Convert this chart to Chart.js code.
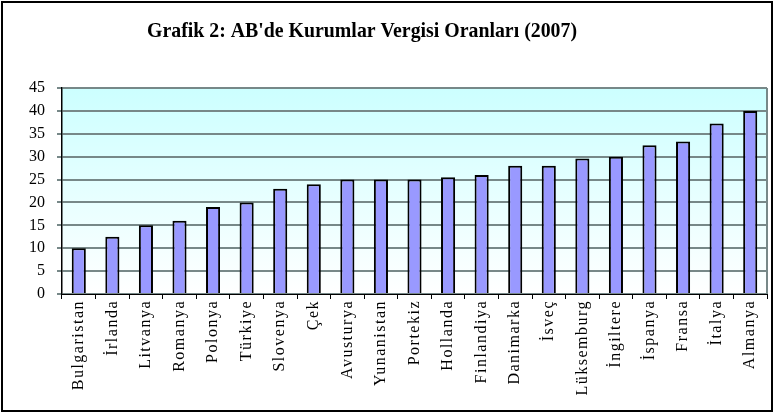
<!DOCTYPE html>
<html><head><meta charset="utf-8">
<script src="https://cdn.jsdelivr.net/npm/chart.js@4"></script>
<style>html,body{margin:0;padding:0;background:#fff}#wrap{width:775px;height:414px;position:relative}</style>
</head><body><div id="wrap"><canvas id="c" width="775" height="414"></canvas></div>
<script>
const titleText = "Grafik 2: AB'de Kurumlar Vergisi Oranları (2007)";
const categories = ['Bulgaristan','İrlanda','Litvanya','Romanya','Polonya','Türkiye','Slovenya','Çek','Avusturya','Yunanistan','Portekiz','Hollanda','Finlandiya','Danimarka','İsveç','Lüksemburg','İngiltere','İspanya','Fransa','İtalya','Almanya'];
const values = [10,12.5,15,16,19,20,23,24,25,25,25,25.5,26,28,28,29.6,30,32.5,33.3,37.25,40];
const yTickValues = [0,5,10,15,20,25,30,35,40,45];

const serif = "'Liberation Serif','Times New Roman',serif";

const decor = {
  id: 'decor',
  beforeDraw(chart) {
    const {ctx, chartArea: a} = chart;
    ctx.save();
    const g = ctx.createLinearGradient(0, a.top, 0, a.bottom);
    g.addColorStop(0, '#ccffff');
    g.addColorStop(1, '#ffffff');
    ctx.fillStyle = g;
    ctx.fillRect(a.left, a.top, a.right - a.left, a.bottom - a.top);
    ctx.restore();
    const xs = chart.scales.x;
    if (!xs._lsPatched) {
      const orig = xs.drawLabels;
      xs.drawLabels = function(area) {
        const c = this.ctx; const prev = c.letterSpacing;
        c.letterSpacing = '1.5px';
        orig.call(this, area);
        c.letterSpacing = prev || '0px';
      };
      xs._lsPatched = true;
    }
  },
  afterDraw(chart) {
    const {ctx, chartArea: a} = chart;
    ctx.save();
    ctx.strokeStyle = '#778888';
    ctx.lineWidth = 2;
    ctx.beginPath();
    ctx.moveTo(a.right, a.top);
    ctx.lineTo(a.right, a.bottom);
    ctx.stroke();
    ctx.strokeStyle = '#000';
    ctx.lineWidth = 2;
    ctx.strokeRect(2, 2, 770, 409);
    ctx.fillStyle = '#000';
    ctx.font = 'bold 22px ' + serif;
    ctx.textAlign = 'center';
    ctx.textBaseline = 'middle';
    const w = ctx.measureText(titleText).width;
    ctx.translate(362, 31);
    ctx.scale(430 / w, 1);
    ctx.fillText(titleText, 0, 0);
    ctx.restore();
  }
};

new Chart(document.getElementById('c'), {
  type: 'bar',
  data: {
    labels: categories,
    datasets: [{
      data: values,
      backgroundColor: '#9999ff',
      borderColor: '#000000',
      borderWidth: 2,
      barPercentage: 0.42,
      categoryPercentage: 1
    }]
  },
  options: {
    responsive: false,
    animation: false,
    devicePixelRatio: 1,
    layout: { padding: { top: 88, right: 8, bottom: 0, left: 0 } },
    plugins: { legend: { display: false }, title: { display: false }, tooltip: { enabled: false } },
    scales: {
      x: {
        afterFit(s) { s.height = 120; },
        grid: { offset: true, drawOnChartArea: false, drawTicks: true, tickLength: 5, color: '#000' },
        border: { color: '#000', width: 1 },
        ticks: { color: '#000', font: { family: serif, size: 16 }, minRotation: 90, maxRotation: 90, padding: 1, autoSkip: false }
      },
      y: {
        min: 0, max: 45,
        afterFit(s) { s.width = 62; },
        afterBuildTicks(s) { s.ticks = yTickValues.map(v => ({ value: v })); },
        grid: { color: '#778888', lineWidth: 2, tickLength: 5 },
        border: { color: '#000', width: 1.5 },
        ticks: { color: '#000', font: { family: serif, size: 16 }, padding: 12 }
      }
    }
  },
  plugins: [decor]
});
</script>
</body></html>
